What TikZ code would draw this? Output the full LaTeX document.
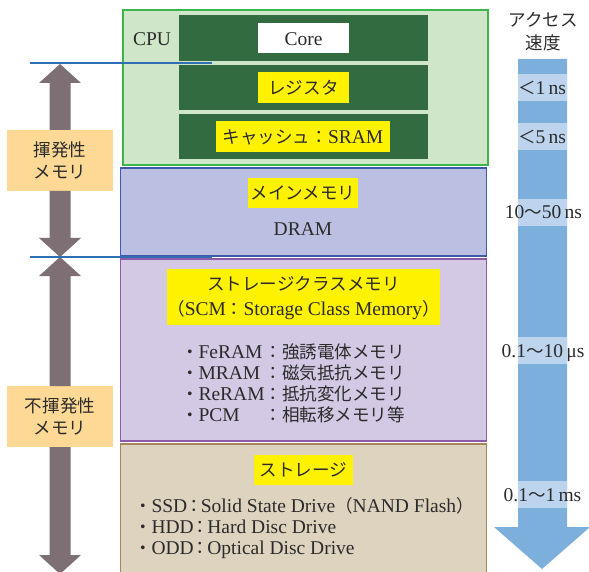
\documentclass[tikz,border=0pt]{standalone}
\usepackage{fontspec}
\setmainfont{Liberation Serif}
\newfontfamily\jp[Scale=0.9]{Noto Sans CJK JP}
\newcommand\J[1]{{\jp #1}}
\definecolor{txt}{HTML}{2B2B2B}
\definecolor{cpuF}{HTML}{CFE6C8}
\definecolor{cpuB}{HTML}{3CB54A}
\definecolor{band}{HTML}{336B41}
\definecolor{memF}{HTML}{BBC0E2}
\definecolor{memB}{HTML}{3D5BA9}
\definecolor{scmF}{HTML}{D3C9E4}
\definecolor{scmB}{HTML}{8C5AA8}
\definecolor{stoF}{HTML}{DED3BF}
\definecolor{stoB}{HTML}{A6875A}
\definecolor{lbl}{HTML}{FDD995}
\definecolor{garrow}{HTML}{7D6F73}
\definecolor{barrow}{HTML}{7DAFDD}
\definecolor{hilite}{HTML}{BCD4EE}
\definecolor{bline}{HTML}{2F6EB5}
\definecolor{ylw}{HTML}{FFF200}
\begin{document}
\begin{tikzpicture}[x=1pt,y=-1pt,
  every node/.style={inner sep=0pt, outer sep=0pt, text=txt, font=\fontsize{19.5}{22}\selectfont},
  panel/.style={draw, line width=1.5pt, minimum width=366},
  bandbox/.style={fill=band, minimum width=249},
  ybox/.style={fill=ylw},
  lblbox/.style={fill=lbl, minimum width=106, minimum height=61, align=center},
  sepline/.style={draw=bline, line width=1.6pt},
  hl/.style={fill=hilite, minimum width=49, minimum height=27}]
\useasboundingbox (0,0) rectangle (589,572);

% panels
\node[panel, draw=cpuB, fill=cpuF, minimum width=365, minimum height=155] (cpubox) at (305.5,87.5) {};
\node[panel, draw=memB, fill=memF, minimum height=88] (membox) at (303.25,212) {};
\node[panel, draw=scmB, fill=scmF, minimum height=182] (scmbox) at (303.25,350) {};
\node[panel, draw=stoB, fill=stoF, minimum height=136] (stobox) at (303.25,512) {};

% CPU
\node[anchor=base] (cpulbl) at (152,46) {CPU};
\node[bandbox, minimum height=46] (band1) at (303.5,38) {};
\node[bandbox, minimum height=45] (band2) at (303.5,87.5) {};
\node[bandbox, minimum height=45] (band3) at (303.5,136.5) {};
\node[fill=white, minimum width=91, minimum height=30] (corebox) at (303.5,38) {};
\node[anchor=base] (core) at (303.5,46) {Core};
\node[ybox, minimum width=91, minimum height=31] (reg) at (303.5,87.5) {\J{レジスタ}};
\node[ybox, minimum width=174, minimum height=31] (cachebox) at (303,136.5) {};
\node[anchor=base] (cache) at (303,144) {\J{キャッシュ：}SRAM};

% main memory
\node[ybox, minimum width=110, minimum height=30] (mainlbl) at (303,193) {\J{メインメモリ}};
\node[anchor=base] (dram) at (303,236) {DRAM};

% SCM
\node[ybox, minimum width=273, minimum height=56] (scmlblbox) at (303.5,297) {};
\node (scm1) at (303.5,284) {\J{ストレージクラスメモリ}};
\node[anchor=base] (scm2) at (303.5,315) {\J{（}SCM\J{：}Storage Class Memory\J{）}};
\node[anchor=base west] (scmlist) at (181,358) {\fontsize{19.5}{21.2}\selectfont
  \begin{tabular}[t]{@{}l@{}l@{}l@{}}
  \J{・}FeRAM & \J{：} & \J{強誘電体メモリ}\\
  \J{・}MRAM & \J{：} & \J{磁気抵抗メモリ}\\
  \J{・}ReRAM & \J{：} & \J{抵抗変化メモリ}\\
  \J{・}PCM & \J{：} & \J{相転移メモリ等}
  \end{tabular}};

% storage
\node[ybox, minimum width=99, minimum height=30] (stolbl) at (303.5,469.5) {\J{ストレージ}};
\node[anchor=base west] (stolist) at (134,512) {\fontsize{19.5}{21.3}\selectfont
  \begin{tabular}[t]{@{}l@{}}
  \J{・}SSD\kern-2pt\J{：}\kern-2pt Solid State Drive\J{（}NAND Flash\J{）}\\
  \J{・}HDD\kern-2pt\J{：}\kern-2pt Hard Disc Drive\\
  \J{・}ODD\kern-2pt\J{：}\kern-2pt Optical Disc Drive
  \end{tabular}};

% left labels and grey arrows
\node[lblbox] (vol) at (60,160.5) {\J{揮発性}\\\J{メモリ}};
\node[lblbox] (nvol) at (60,416.5) {\J{不揮発性}\\\J{メモリ}};
\fill[garrow] (vol.north -| 49.5,0) -- (49.5,83) -- (39,83) -- (60,64) -- (81,83) -- (70.5,83) -- (vol.north -| 70.5,0) -- cycle;
\fill[garrow] (vol.south -| 49.5,0) -- (49.5,238) -- (39,238) -- (60,257) -- (81,238) -- (70.5,238) -- (vol.south -| 70.5,0) -- cycle;
\fill[garrow] (nvol.north -| 49.5,0) -- (49.5,276) -- (39,276) -- (60,257) -- (81,276) -- (70.5,276) -- (nvol.north -| 70.5,0) -- cycle;
\fill[garrow] (nvol.south -| 49.5,0) -- (49.5,555) -- (39,555) -- (60,574) -- (81,555) -- (70.5,555) -- (nvol.south -| 70.5,0) -- cycle;

% separator lines
\coordinate (s1a) at (30,63); \coordinate (s1b) at (212,63);
\coordinate (s2a) at (30,257); \coordinate (s2b) at (212,257);
\draw[sepline] (s1a) -- (s1b);
\draw[sepline] (s2a) -- (s2b);

% access speed
\node[anchor=base] (acc1) at (543,27) {\J{アクセス}};
\node[anchor=base] (acc2) at (543,50) {\J{速度}};
\fill[barrow] (518,59) -- (518,527) -- (494,527) -- (542,569) -- (590,527) -- (567,527) -- (567,59) -- cycle;
\node[hl] (h1) at (542.5,87.5) {};
\node[hl] (h2) at (542.5,136.5) {};
\node[hl] (h3) at (542.5,212.5) {};
\node[hl] (h4) at (542.5,350) {};
\node[hl] (h5) at (542.5,494.5) {};
\node[anchor=base] (t1) at (542,95) {\J{＜}1\,ns};
\node[anchor=base] (t2) at (542,144) {\J{＜}5\,ns};
\node[anchor=base] (t3) at (543.5,219) {10\J{〜}50\,ns};
\node[anchor=base] (t4) at (543,357) {0.1\J{〜}10\,μs};
\node[anchor=base] (t5) at (542.5,501) {0.1\J{〜}1\,ms};
\end{tikzpicture}
\end{document}
